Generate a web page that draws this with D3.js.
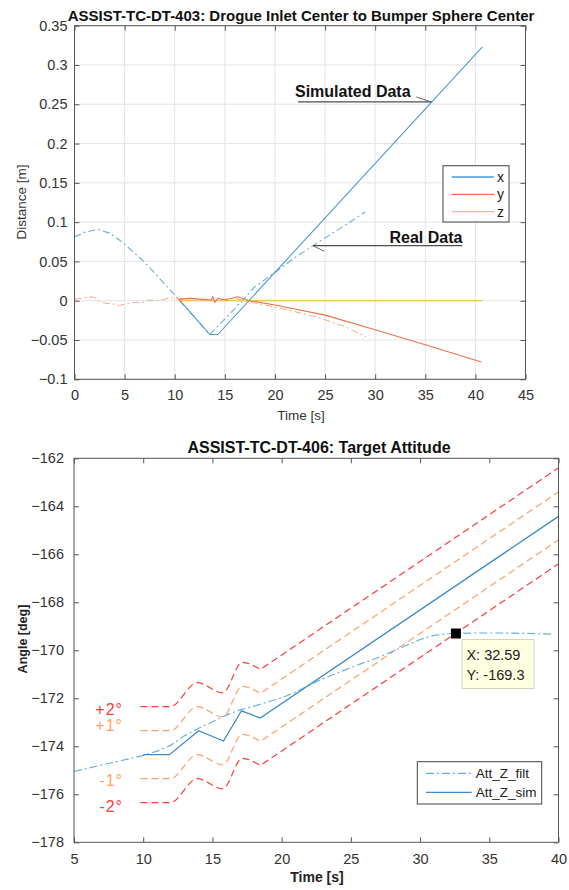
<!DOCTYPE html>
<html>
<head>
<meta charset="utf-8">
<script src="https://d3js.org/d3.v7.min.js"></script>
<style>
  body { margin: 0; background: #fff; }
  text { font-family: Arial, "Liberation Sans", sans-serif; }
</style>
</head>
<body>
<script>
// ---- top chart data: [time s, distance m]
var xSim = [[10.4,0.002],[13.5,-0.043],[14.3,-0.043],[40.7,0.323]];
var xReal = [[0,0.081],[1,0.087],[2.3,0.091],[3.5,0.086],[4.5,0.077],[5,0.072],[7,0.049],
             [10.3,0.003],[13.5,-0.043],[16,-0.01],[18,0.018],[20,0.036],[22,0.055],
             [24.5,0.076],[27,0.096],[29,0.113]];
var ySim = [[10.4,0.002],[11.5,0.003],[12.5,0.002],[13.6,0.001],[13.8,0.005],[14,-0.002],
            [14.3,0.003],[15,0.001],[16.3,0.005],[17.5,0.0],[20,-0.0055],[25,-0.0183],
            [30,-0.037],[35,-0.056],[40.6,-0.078]];
var yReal = [[0,0.002],[0.8,0.003],[1.5,0.005],[2,0.004],[2.4,0.0],[3,-0.003],[3.8,-0.004],
             [4.5,-0.006],[5.2,-0.004],[6,-0.002],[6.8,-0.002],[7.5,0.001],[8.2,0.0],[9,0.002],
             [9.6,0.004],[10.3,0.002],[11,0.002],[12,0.003],[13,0.0],[14,0.001],[15,0.002],
             [16,0.003],[17,0.0],[18,-0.003],[20,-0.008],[22,-0.014],[24.5,-0.022],
             [27,-0.033],[29.1,-0.046]];
var zSim = [[10.4,0],[40.7,0]];
var topXTicks = [0,5,10,15,20,25,30,35,40,45];
var topYTicks = [-0.1,-0.05,0,0.05,0.1,0.15,0.2,0.25,0.3,0.35];
var topLegend = ["x","y","z"];

// ---- bottom chart data: [time s, angle deg]
var attFilt = [[5,-175.05],[7,-174.78],[9,-174.52],[10,-174.38],[11,-174.2],[12,-173.95],
               [13,-173.55],[14,-173.25],[15,-172.98],[16,-172.7],[17,-172.48],[18,-172.33],
               [19,-172.15],[20,-171.98],[21,-171.75],[22,-171.45],[23,-171.18],[24,-170.95],
               [25,-170.72],[26,-170.5],[27,-170.3],[28,-170.05],[29,-169.8],[30,-169.55],
               [31,-169.38],[32,-169.31],[32.59,-169.3],[34,-169.28],[36,-169.28],
               [38,-169.3],[39.6,-169.33]];
var attSim = [[10,-174.35],[11.9,-174.35],[14,-173.35],[15.8,-173.78],[17.1,-172.52],
              [18.45,-172.82],[40,-164.42]];
var bandP2 = [[9.8,-172.35],[11.95,-172.35],[13.9,-171.35],[15.75,-171.77],[17.15,-170.5],[18.45,-170.8],[40,-162.4]];
var bandP1 = [[9.8,-173.35],[11.95,-173.35],[13.9,-172.35],[15.75,-172.77],[17.15,-171.5],[18.45,-171.8],[40,-163.4]];
var bandM1 = [[9.8,-175.35],[11.95,-175.35],[13.9,-174.35],[15.75,-174.77],[17.15,-173.5],[18.45,-173.8],[40,-165.4]];
var bandM2 = [[9.8,-176.35],[11.95,-176.35],[13.9,-175.35],[15.75,-175.77],[17.15,-174.5],[18.45,-174.8],[40,-166.4]];
var bandLabels = ["+2°","+1°","-1°","-2°"];
var tipPoint = [32.59, -169.3];
var botXTicks = [5,10,15,20,25,30,35,40];
var botYTicks = [-178,-176,-174,-172,-170,-168,-166,-164,-162];
var botLegend = ["Att_Z_filt","Att_Z_sim"];

var svg = d3.select("body").append("svg").attr("width", 569).attr("height", 890);

var blue = "#4d9ad6", blueL = "#69aee2", orange = "#e8744a", orangeL = "#f3ab8e", gold = "#f0c462";
var red = "#ff3b3b", orng = "#ffa168";

function frame(x, y, xt, yt, grid) {
  var r = x.range(), q = y.range();
  var g = svg.append("g");
  if (grid) {
    g.selectAll(".gx").data(xt).enter().append("line")
      .attr("x1", x).attr("x2", x).attr("y1", q[0]).attr("y2", q[1])
      .attr("stroke", "#e4e4e4");
    g.selectAll(".gy").data(yt).enter().append("line")
      .attr("y1", y).attr("y2", y).attr("x1", r[0]).attr("x2", r[1])
      .attr("stroke", "#e4e4e4");
  }
  return g;
}

function axes(x, y, xt, yt, fx, fy, padX, padY) {
  var r = x.range(), q = y.range();
  var g = svg.append("g");
  var a = [
    g.append("g").attr("transform", "translate(0," + q[0] + ")")
      .call(d3.axisBottom(x).tickValues(xt).tickFormat(fx).tickSize(-5).tickSizeOuter(0).tickPadding(padX)),
    g.append("g").attr("transform", "translate(0," + q[1] + ")")
      .call(d3.axisTop(x).tickValues(xt).tickFormat("").tickSize(-5).tickSizeOuter(0)),
    g.append("g").attr("transform", "translate(" + r[0] + ",0)")
      .call(d3.axisLeft(y).tickValues(yt).tickFormat(fy).tickSize(-5).tickSizeOuter(0).tickPadding(padY)),
    g.append("g").attr("transform", "translate(" + r[1] + ",0)")
      .call(d3.axisRight(y).tickValues(yt).tickFormat("").tickSize(-5).tickSizeOuter(0))
  ];
  a.forEach(function(s) {
    s.select(".domain").remove();
    s.selectAll(".tick line").attr("stroke", "#555");
    s.selectAll(".tick text").attr("fill", "#333").style("font-size", "14.5px").style("font-family", "Arial, 'Liberation Sans', sans-serif");
  });
  g.append("rect").attr("x", r[0]).attr("y", q[1]).attr("width", r[1] - r[0]).attr("height", q[0] - q[1])
    .attr("fill", "none").attr("stroke", "#555");
}

function path(g, data, x, y, color, dash, w) {
  g.append("path").datum(data)
    .attr("d", d3.line().x(function(d){ return x(d[0]); }).y(function(d){ return y(d[1]); }))
    .attr("fill", "none").attr("stroke", color).attr("stroke-width", w || 1.1)
    .attr("stroke-dasharray", dash || null);
}

// bands: smooth wiggle part, then a straight run to the last point
function band(g, data, x, y, color) {
  var n = data.length - 1;
  var d = d3.line().x(function(p){ return x(p[0]); }).y(function(p){ return y(p[1]); })
    .curve(d3.curveMonotoneX)(data.slice(0, n));
  d += "L" + x(data[n][0]) + "," + y(data[n][1]);
  g.append("path").attr("d", d).attr("fill", "none").attr("stroke", color)
    .attr("stroke-width", 1.2).attr("stroke-dasharray", "7,4");
}

// ================= top chart
var x1 = d3.scaleLinear().domain([0,45]).range([74.5,525.5]);
var y1 = d3.scaleLinear().domain([-0.1,0.35]).range([379.3,25.7]);
var g1 = frame(x1, y1, topXTicks, topYTicks, true);
var dd = "7,3,2,3";
path(g1, yReal, x1, y1, orangeL, dd, 1);
path(g1, xReal, x1, y1, blueL, dd, 1.1);
path(g1, zSim, x1, y1, gold, null, 1.3);
path(g1, ySim, x1, y1, orange, null, 1.1);
path(g1, xSim, x1, y1, blue, null, 1.1);
axes(x1, y1, topXTicks, topYTicks, d3.format("~g"), d3.format("~g"), 10, 7);

svg.append("text").attr("x", 301).attr("y", 21).attr("text-anchor", "middle")
  .style("font-size", "15px").style("font-weight", "bold").attr("fill", "#111")
  .text("ASSIST-TC-DT-403: Drogue Inlet Center to Bumper Sphere Center");
svg.append("text").attr("x", 301).attr("y", 420).attr("text-anchor", "middle")
  .style("font-size", "13.5px").attr("fill", "#333").text("Time [s]");
svg.append("text").attr("transform", "translate(26,202) rotate(-90)").attr("text-anchor", "middle")
  .style("font-size", "13.5px").attr("fill", "#333").text("Distance [m]");

// annotations
var ann = svg.append("g");
ann.append("line").attr("x1", x1(22.3)).attr("x2", x1(35.6)).attr("y1", y1(0.253)).attr("y2", y1(0.253)).attr("stroke", "#222");
ann.append("line").attr("x1", x1(34.1)).attr("x2", x1(35.6)).attr("y1", y1(0.253) - 5).attr("y2", y1(0.253)).attr("stroke", "#666");
ann.append("text").attr("x", x1(22.0)).attr("y", 96.5).style("font-size", "16px").style("font-weight", "bold").attr("fill", "#111").text("Simulated Data");
ann.append("line").attr("x1", x1(23.8)).attr("x2", x1(38.7)).attr("y1", y1(0.07)).attr("y2", y1(0.07)).attr("stroke", "#222");
ann.append("line").attr("x1", x1(23.8)).attr("x2", x1(24.9)).attr("y1", y1(0.07)).attr("y2", y1(0.07) + 5.5).attr("stroke", "#666");
ann.append("text").attr("x", x1(38.7)).attr("y", 242.5).attr("text-anchor", "end").style("font-size", "16px").style("font-weight", "bold").attr("fill", "#111").text("Real Data");

// legend
var lg1 = svg.append("g");
lg1.append("rect").attr("x", 443).attr("y", 165.7).attr("width", 66).attr("height", 56.3).attr("fill", "#fff").attr("stroke", "#444");
[blue, orange, gold].forEach(function(c, i) {
  var yy = 177 + i * 17.3;
  lg1.append("line").attr("x1", 451.7).attr("x2", 494).attr("y1", yy).attr("y2", yy).attr("stroke", c).attr("stroke-width", 1.3);
  lg1.append("text").attr("x", 497).attr("y", yy).attr("dy", "0.35em").style("font-size", "14px").attr("fill", "#222").text(topLegend[i]);
});

// ================= bottom chart
var x2 = d3.scaleLinear().domain([5,40]).range([74,558.5]);
var y2 = d3.scaleLinear().domain([-178,-162]).range([842.3,458.3]);
var g2 = frame(x2, y2, botXTicks, botYTicks, false);
band(g2, bandP2, x2, y2, red);
band(g2, bandM2, x2, y2, red);
band(g2, bandP1, x2, y2, orng);
band(g2, bandM1, x2, y2, orng);
path(g2, attFilt, x2, y2, blueL, "8,3,2,3", 1.2);
path(g2, attSim, x2, y2, "#3d8bcc", null, 1.3);
axes(x2, y2, botXTicks, botYTicks, d3.format("d"), d3.format("d"), 11, 10);

var bl = svg.append("g");
[[bandLabels[0], 709, red], [bandLabels[1], 725.5, orng], [bandLabels[2], 780, orng], [bandLabels[3], 806.7, red]].forEach(function(b) {
  bl.append("text").attr("x", 123).attr("y", b[1]).attr("dy", "0.35em").attr("text-anchor", "end")
    .style("font-size", "16px").style("letter-spacing", "1px").attr("fill", b[2]).text(b[0]);
});

svg.append("text").attr("x", 319).attr("y", 453).attr("text-anchor", "middle")
  .style("font-size", "16px").style("font-weight", "bold").attr("fill", "#111")
  .text("ASSIST-TC-DT-406: Target Attitude");
svg.append("text").attr("x", 317).attr("y", 882).attr("text-anchor", "middle")
  .style("font-size", "14px").style("font-weight", "bold").attr("fill", "#222").text("Time [s]");
svg.append("text").attr("transform", "translate(27,639) rotate(-90)").attr("text-anchor", "middle")
  .style("font-size", "12.5px").style("font-weight", "bold").attr("fill", "#222").text("Angle [deg]");

// datatip
var tx = x2(tipPoint[0]), ty = y2(tipPoint[1]);
var tip = svg.append("g");
tip.append("rect").attr("x", tx + 6).attr("y", ty + 6).attr("width", 72).attr("height", 49)
  .attr("fill", "#ffffe1").attr("stroke", "#d4d4c4");
tip.append("text").attr("x", tx + 10.5).attr("y", ty + 21.5).attr("dy", "0.35em").style("font-size", "14.5px").attr("fill", "#222").text("X: " + tipPoint[0]);
tip.append("text").attr("x", tx + 10.5).attr("y", ty + 41.5).attr("dy", "0.35em").style("font-size", "14.5px").attr("fill", "#222").text("Y: " + tipPoint[1]);
tip.append("rect").attr("x", tx - 5).attr("y", ty - 5).attr("width", 10).attr("height", 10).attr("fill", "#000");

// legend bottom
var lg2 = svg.append("g");
lg2.append("rect").attr("x", 417.3).attr("y", 761.7).attr("width", 124.4).attr("height", 42.3).attr("fill", "#fff").attr("stroke", "#444");
[["8,3,2,3", blueL], [null, "#3d8bcc"]].forEach(function(s, i) {
  var yy = 773.3 + i * 19;
  lg2.append("line").attr("x1", 426).attr("x2", 471.7).attr("y1", yy).attr("y2", yy)
    .attr("stroke", s[1]).attr("stroke-width", 1.2).attr("stroke-dasharray", s[0]);
  lg2.append("text").attr("x", 475.7).attr("y", yy).attr("dy", "0.35em").style("font-size", "13.5px").attr("fill", "#222").text(botLegend[i]);
});
</script>
</body>
</html>
